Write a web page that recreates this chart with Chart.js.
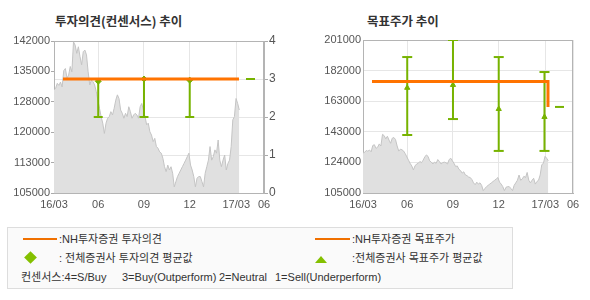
<!DOCTYPE html>
<html>
<head>
<meta charset="utf-8">
<script src="https://cdn.jsdelivr.net/npm/chart.js@4"></script>
<style>
body{margin:0;background:#fff;width:590px;height:300px;position:relative;overflow:hidden;font-family:"Liberation Sans","Noto Sans CJK KR",sans-serif;}
canvas{position:absolute;top:0;}
.title{position:absolute;top:11px;font-size:12.5px;font-weight:bold;color:#333;white-space:pre;font-family:"Noto Sans CJK KR",sans-serif;}
#legendBox{position:absolute;left:7px;top:227px;width:504px;height:60px;border:1px solid #ddd;background:#fafafa;}
.txt{position:absolute;font-size:11px;line-height:14px;color:#333;white-space:pre;}
.bar{position:absolute;height:2px;background:#f07000;}
.diamond{position:absolute;width:9px;height:9px;background:#84c000;transform:rotate(45deg);}
.tri{position:absolute;width:0;height:0;border-left:6.5px solid transparent;border-right:6.5px solid transparent;border-bottom:7px solid #84c000;}
</style>
</head>
<body>
<div class="title" style="left:55px">투자의견(컨센서스) 추이</div>
<div class="title" style="left:367px">목표주가 추이</div>
<canvas id="opinionChart" width="295" height="215" style="left:0"></canvas>
<canvas id="targetChart" width="295" height="215" style="left:295px"></canvas>

<div id="legendBox"></div>
<div class="bar" style="left:23px;top:238px;width:34px"></div>
<div class="txt" style="left:59px;top:232px">:NH투자증권 투자의견</div>
<div class="bar" style="left:315px;top:238px;width:35px"></div>
<div class="txt" style="left:352px;top:232px">:NH투자증권 목표주가</div>
<div class="diamond" style="left:26px;top:253px"></div>
<div class="txt" style="left:59px;top:251px">: 전체증권사 투자의견 평균값</div>
<div class="tri" style="left:315px;top:256px"></div>
<div class="txt" style="left:352px;top:251px">:전체증권사 목표주가 평균값</div>
<div class="txt" style="left:21px;top:270px">컨센서스:4=S/Buy</div>
<div class="txt" style="left:122px;top:270px">3=Buy(Outperform)</div>
<div class="txt" style="left:219px;top:270px">2=Neutral</div>
<div class="txt" style="left:275px;top:270px">1=Sell(Underperform)</div>

<script>
// months counted from 16/03
const xTickPos = [0, 2.9, 5.9, 8.9, 11.95, 13.77];
const xTickLabels = ["16/03", "06", "09", "12", "17/03", "06"];
const leftPriceTicks = ["105000", "113000", "120000", "128000", "135000", "142000"];
const rightPriceTicks = ["105000", "124000", "143000", "163000", "182000", "201000"];
const opinionTicks = ["0", "1", "2", "3", "4"];

// share price, roughly every other trading day
const priceValues = [
  130100, 130500, 131700, 131200, 132000, 130800, 134800, 135300, 133000, 133700,
  135800, 134500, 141800, 141000, 139000, 140600, 138200, 136200, 139400, 139800,
  138600, 134500, 131300, 132500, 132100, 131300, 129700, 127600, 125600, 123600,
  122000, 119500, 122000, 123200, 123600, 124800, 124000, 125600, 127600, 128900,
  128000, 125200, 124400, 123200, 124400, 123600, 126000, 124800, 123200, 124000,
  124400, 124000, 123200, 126000, 126800, 125200, 123600, 121600, 122000, 119900,
  119100, 117500, 118300, 116300, 115900, 115000, 114700, 113450, 111400, 110200,
  111800, 110600, 111400, 109800, 106500, 107800, 109000, 109800, 110600, 111400,
  112200, 113000, 113850, 114700, 111800, 110600, 109000, 106500, 108600, 109000,
  109000, 107800, 106500, 109800, 111400, 113000, 116300, 113000, 113850, 115500,
  114700, 117900, 113000, 111400, 113000, 114250, 110600, 112200, 113000, 116300,
  122800, 123600, 128000, 126800, 125200
];
const priceEndX = 12.15;

// NH investment opinion / target price
const nhOpinionX = [0.59, 12.13];
const nhOpinion = [3, 3];
const nhTargetX = [0.59, 12.13, 12.13];
const nhTarget = [175000, 175000, 159000];

// consensus (average, min, max)
const consOpinionX = [2.9, 5.9, 8.9];
const consOpinionAvg = [2.94, 3.0, 2.97];
const consOpinionMin = [2, 2, 2];
const consOpinionMax = [3, 3, 3];
const consTargetX = [2.9, 5.9, 8.9, 11.9];
const consTargetAvg = [171000, 172800, 157700, 152700];
const consTargetMin = [141400, 151400, 131400, 131400];
const consTargetMax = [190300, 201000, 190300, 180900];

// latest value dash after the last month
const lastMarkX = [12.59, 13.18];
const lastOpinion = 3;
const lastTarget = 159000;

const ORANGE = "#ff7300";
const GREEN = "#77b300";
const FONT = { family: "'Liberation Sans', Arial, sans-serif", size: 11 };

const pricePoints = priceValues.map((v, i) => ({ x: i * priceEndX / (priceValues.length - 1), y: v }));

function pairs(xs, ys) {
  return xs.map((x, i) => ({ x, y: ys[i] }));
}

function errorBars(xs, mins, maxs) {
  const pts = [];
  xs.forEach((x, i) => {
    pts.push({ x, y: mins[i] }, { x, y: maxs[i] }, { x, y: null });
  });
  return pts;
}

const frame = {
  id: "frame",
  beforeDatasetsDraw(chart) {
    const a = chart.chartArea, ctx = chart.ctx;
    ctx.save();
    ctx.strokeStyle = "#b4b4b4";
    ctx.lineWidth = 1;
    ctx.beginPath();
    ctx.moveTo(a.left, a.top + 0.5);
    ctx.lineTo(a.right, a.top + 0.5);
    ctx.moveTo(a.right - 0.5, a.top);
    ctx.lineTo(a.right - 0.5, a.bottom);
    ctx.stroke();
    ctx.restore();
  }
};

function xAxis() {
  return {
    type: "linear",
    min: 0,
    max: 13.77,
    afterBuildTicks: s => { s.ticks = xTickPos.map(v => ({ value: v })); },
    afterFit: s => { s.height = 22; },
    ticks: {
      autoSkip: false, maxRotation: 0, padding: 5, color: "#555", font: FONT,
      callback: (v, i) => xTickLabels[i]
    },
    grid: { color: "#e6e6e6", drawTicks: false },
    border: { color: "#b4b4b4" }
  };
}

function priceDataset(axis) {
  return {
    type: "line", yAxisID: axis, order: 10,
    data: pricePoints,
    fill: "start", backgroundColor: "#e0e0e0",
    borderColor: "#c4c4c4", borderWidth: 1,
    pointRadius: 0, tension: 0
  };
}

function lineDataset(axis, data, color, width, order) {
  return {
    type: "line", yAxisID: axis, order,
    data, borderColor: color, borderWidth: width,
    pointRadius: 0, fill: false, tension: 0
  };
}

function barDataset(axis, data, cap) {
  return {
    type: "line", yAxisID: axis, order: 3,
    data, borderColor: GREEN, borderWidth: 2, spanGaps: false,
    pointStyle: "line", pointRadius: cap, pointBorderColor: GREEN,
    pointBorderWidth: 2, fill: false
  };
}

function markerDataset(axis, data, style) {
  return {
    type: "scatter", yAxisID: axis, order: 2,
    data, pointStyle: style, pointRadius: 3,
    backgroundColor: GREEN, borderColor: GREEN, borderWidth: 1
  };
}

Chart.defaults.animation = false;

new Chart(document.getElementById("opinionChart"), {
  type: "line",
  data: {
    datasets: [
      priceDataset("y"),
      lineDataset("y2", pairs(nhOpinionX, nhOpinion), ORANGE, 3, 1),
      barDataset("y2", errorBars(consOpinionX, consOpinionMin, consOpinionMax), 4.5),
      markerDataset("y2", pairs(consOpinionX, consOpinionAvg), "rectRot"),
      lineDataset("y2", lastMarkX.map(x => ({ x, y: lastOpinion })), GREEN, 2, 4)
    ]
  },
  options: {
    responsive: false,
    devicePixelRatio: 1,
    layout: { padding: { top: 41, left: 0, right: 0, bottom: 0 } },
    plugins: { legend: { display: false }, tooltip: { enabled: false } },
    scales: {
      x: xAxis(),
      y: {
        position: "left", min: 105000, max: 142000,
        ticks: { stepSize: 7400, padding: 1, color: "#555", font: FONT, callback: (v, i) => leftPriceTicks[i] },
        afterFit: s => { s.width = 54; },
        grid: { drawOnChartArea: false, tickLength: 3, tickColor: "#aaa" },
        border: { color: "#b4b4b4" }
      },
      y2: {
        position: "right", min: 0, max: 4,
        ticks: { stepSize: 1, padding: 1, color: "#555", font: { ...FONT, size: 12 }, callback: (v, i) => opinionTicks[i] },
        afterFit: s => { s.width = 31; },
        grid: { color: "#e6e6e6", tickLength: 4, tickColor: "#aaa" },
        border: { color: "#b4b4b4" }
      }
    }
  },
  plugins: [frame]
});

new Chart(document.getElementById("targetChart"), {
  type: "line",
  data: {
    datasets: [
      priceDataset("y"),
      lineDataset("y", pairs(nhTargetX, nhTarget), ORANGE, 3, 1),
      barDataset("y", errorBars(consTargetX, consTargetMin, consTargetMax), 5),
      markerDataset("y", pairs(consTargetX, consTargetAvg), "triangle"),
      lineDataset("y", lastMarkX.map(x => ({ x, y: lastTarget })), GREEN, 2, 4)
    ]
  },
  options: {
    responsive: false,
    devicePixelRatio: 1,
    layout: { padding: { top: 40, left: 0, right: 17, bottom: 0 } },
    plugins: { legend: { display: false }, tooltip: { enabled: false } },
    scales: {
      x: xAxis(),
      y: {
        position: "left", min: 105000, max: 201000,
        ticks: { stepSize: 19200, padding: 2, color: "#555", font: FONT, callback: (v, i) => rightPriceTicks[i] },
        afterFit: s => { s.width = 68; },
        grid: { color: "#e6e6e6", drawTicks: false },
        border: { color: "#b4b4b4" }
      }
    }
  },
  plugins: [frame]
});
</script>
</body>
</html>
